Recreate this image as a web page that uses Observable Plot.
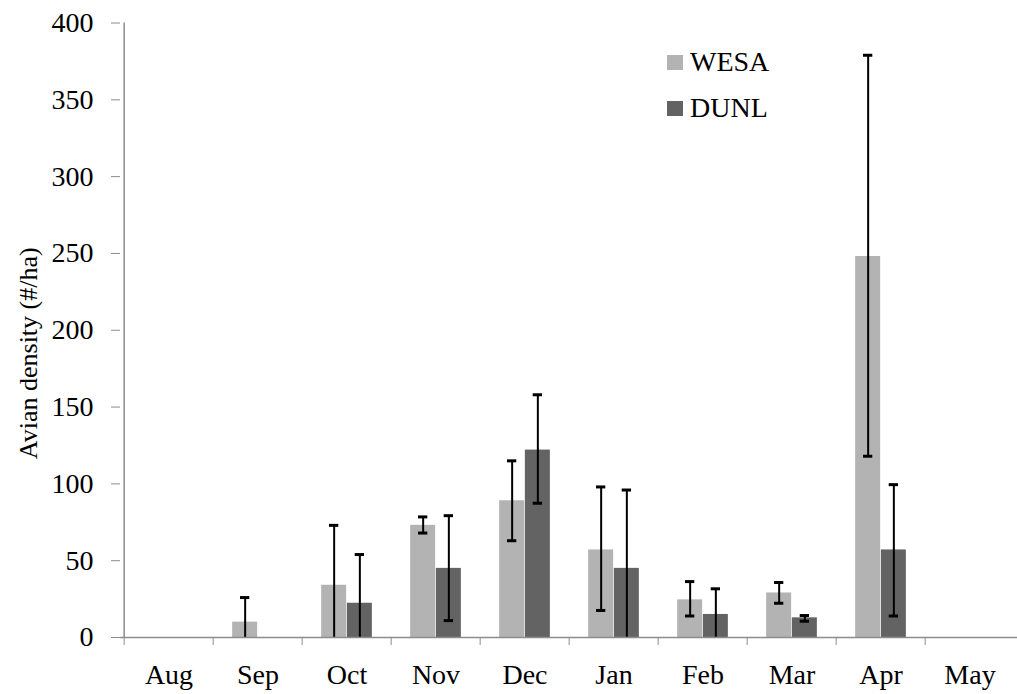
<!DOCTYPE html>
<html><head><meta charset="utf-8">
<script src="https://cdn.jsdelivr.net/npm/d3@7"></script>
<script src="https://cdn.jsdelivr.net/npm/@observablehq/plot@0.6"></script>
<style>
body{margin:0;background:#fff;}
#wrap{position:relative;width:1017px;height:694px;font-family:"Liberation Serif","Times New Roman",serif;}
#wrap svg, #wrap svg text{font-family:"Liberation Serif","Times New Roman",serif !important;}
.legend{position:absolute;left:667px;top:39px;font-size:28px;color:#000;}
.legend .row{display:flex;align-items:center;height:46px;}
.legend .sw{width:16px;height:15px;margin-right:7px;display:inline-block;}
</style></head><body><div id="wrap"></div>
<script>
const months = ["Aug","Sep","Oct","Nov","Dec","Jan","Feb","Mar","Apr","May"];
const seriesNames = ["WESA","DUNL"];
const seriesColors = ["#b3b3b3","#636363"];
const wesa   = [0, 10, 34, 73, 89, 57, 24.5, 29, 248, 0];
const wesaHi = [null, 26, 73, 78.5, 115, 98, 36.4, 35.8, 379, null];
const wesaLo = [null, 0, 0, 68, 63, 17.6, 14, 22.3, 118, null];
const dunl   = [0, 0, 22.3, 45, 122, 45, 15, 12.8, 57, 0];
const dunlHi = [null, null, 54, 79.3, 158, 96, 31.7, 14.3, 99.5, null];
const dunlLo = [null, null, 0, 11, 87.4, 0, 0, 10.6, 14, null];
const yTicks = [0, 50, 100, 150, 200, 250, 300, 350, 400];
const yLabel = "Avian density (#/ha)";

const FONT = "Liberation Serif";
const W = 1017, H = 694, ML = 120, MR = 0, MT = 22.5, MB = 57;
const step = (W - ML - MR) / months.length;
const barW = 25.7;
const gap = (step - 2 * barW) / 2;
const capW = 10;
const axisGray = "#8c8c8c";

const rows = s => months.map((m, i) => ({
  month: m,
  value: s === 0 ? wesa[i] : dunl[i],
  hi: s === 0 ? wesaHi[i] : dunlHi[i],
  lo: s === 0 ? wesaLo[i] : dunlLo[i]
}));
const wRows = rows(0), dRows = rows(1);
const off = barW / 2;

const marks = [];
[[wRows, 0], [dRows, 1]].forEach(([rs, s]) => {
  marks.push(Plot.barY(rs, {
    x: "month", y: "value", fill: seriesColors[s],
    insetLeft: s === 0 ? gap : gap + barW,
    insetRight: s === 0 ? gap + barW : gap
  }));
});
[[wRows, -off], [dRows, off]].forEach(([rs, dx]) => {
  const e = rs.filter(d => d.hi != null);
  marks.push(Plot.ruleX(e, {x: "month", y1: d => d.lo ?? 0, y2: "hi", dx, stroke: "#000", strokeWidth: 2}));
  marks.push(Plot.tickY(e, {x: "month", y: "hi", dx, stroke: "#000", strokeWidth: 3,
    insetLeft: step / 2 - capW / 2, insetRight: step / 2 - capW / 2}));
  marks.push(Plot.tickY(e.filter(d => d.lo > 0), {x: "month", y: "lo", dx, stroke: "#000", strokeWidth: 3,
    insetLeft: step / 2 - capW / 2, insetRight: step / 2 - capW / 2}));
});

const chart = Plot.plot({
  width: W, height: H,
  marginLeft: ML, marginRight: MR, marginTop: MT, marginBottom: MB,
  style: {fontFamily: FONT, fontSize: "28px", background: "#fff", color: "#000"},
  x: {type: "band", domain: months, padding: 0, axis: null},
  y: {domain: [0, 400], axis: null},
  marks: [
    ...marks,
    Plot.ruleY([0], {stroke: axisGray, strokeWidth: 1.5}),
    Plot.ruleX([months[0]], {x: d => d, y1: 0, y2: 400, dx: -step / 2, stroke: axisGray, strokeWidth: 1.5}),
    Plot.axisY({ticks: yTicks, tickSize: 9, tickPadding: 18, stroke: axisGray, fill: "#000", fontSize: 28, fontFamily: FONT, label: null, tickFormat: d => String(d)}),
    Plot.axisX({tickSize: 8, dx: -step / 2, stroke: axisGray, tickFormat: () => "", label: null}),
    Plot.axisX({tickSize: 0, tickPadding: 27, fill: "#000", fontSize: 28, fontFamily: FONT, label: null}),
    Plot.text([yLabel], {text: d => d, frameAnchor: "left", textAnchor: "middle", rotate: -90, dx: -92, dy: 23, fontSize: 26, fontFamily: FONT, fill: "#000"})
  ]
});

const wrap = document.getElementById("wrap");
wrap.appendChild(chart);
const lg = document.createElement("div");
lg.className = "legend";
seriesNames.forEach((n, i) => {
  const r = document.createElement("div");
  r.className = "row";
  const sw = document.createElement("span");
  sw.className = "sw"; sw.style.background = seriesColors[i];
  const t = document.createElement("span"); t.textContent = n;
  r.appendChild(sw); r.appendChild(t);
  lg.appendChild(r);
});
wrap.appendChild(lg);
</script></body></html>
